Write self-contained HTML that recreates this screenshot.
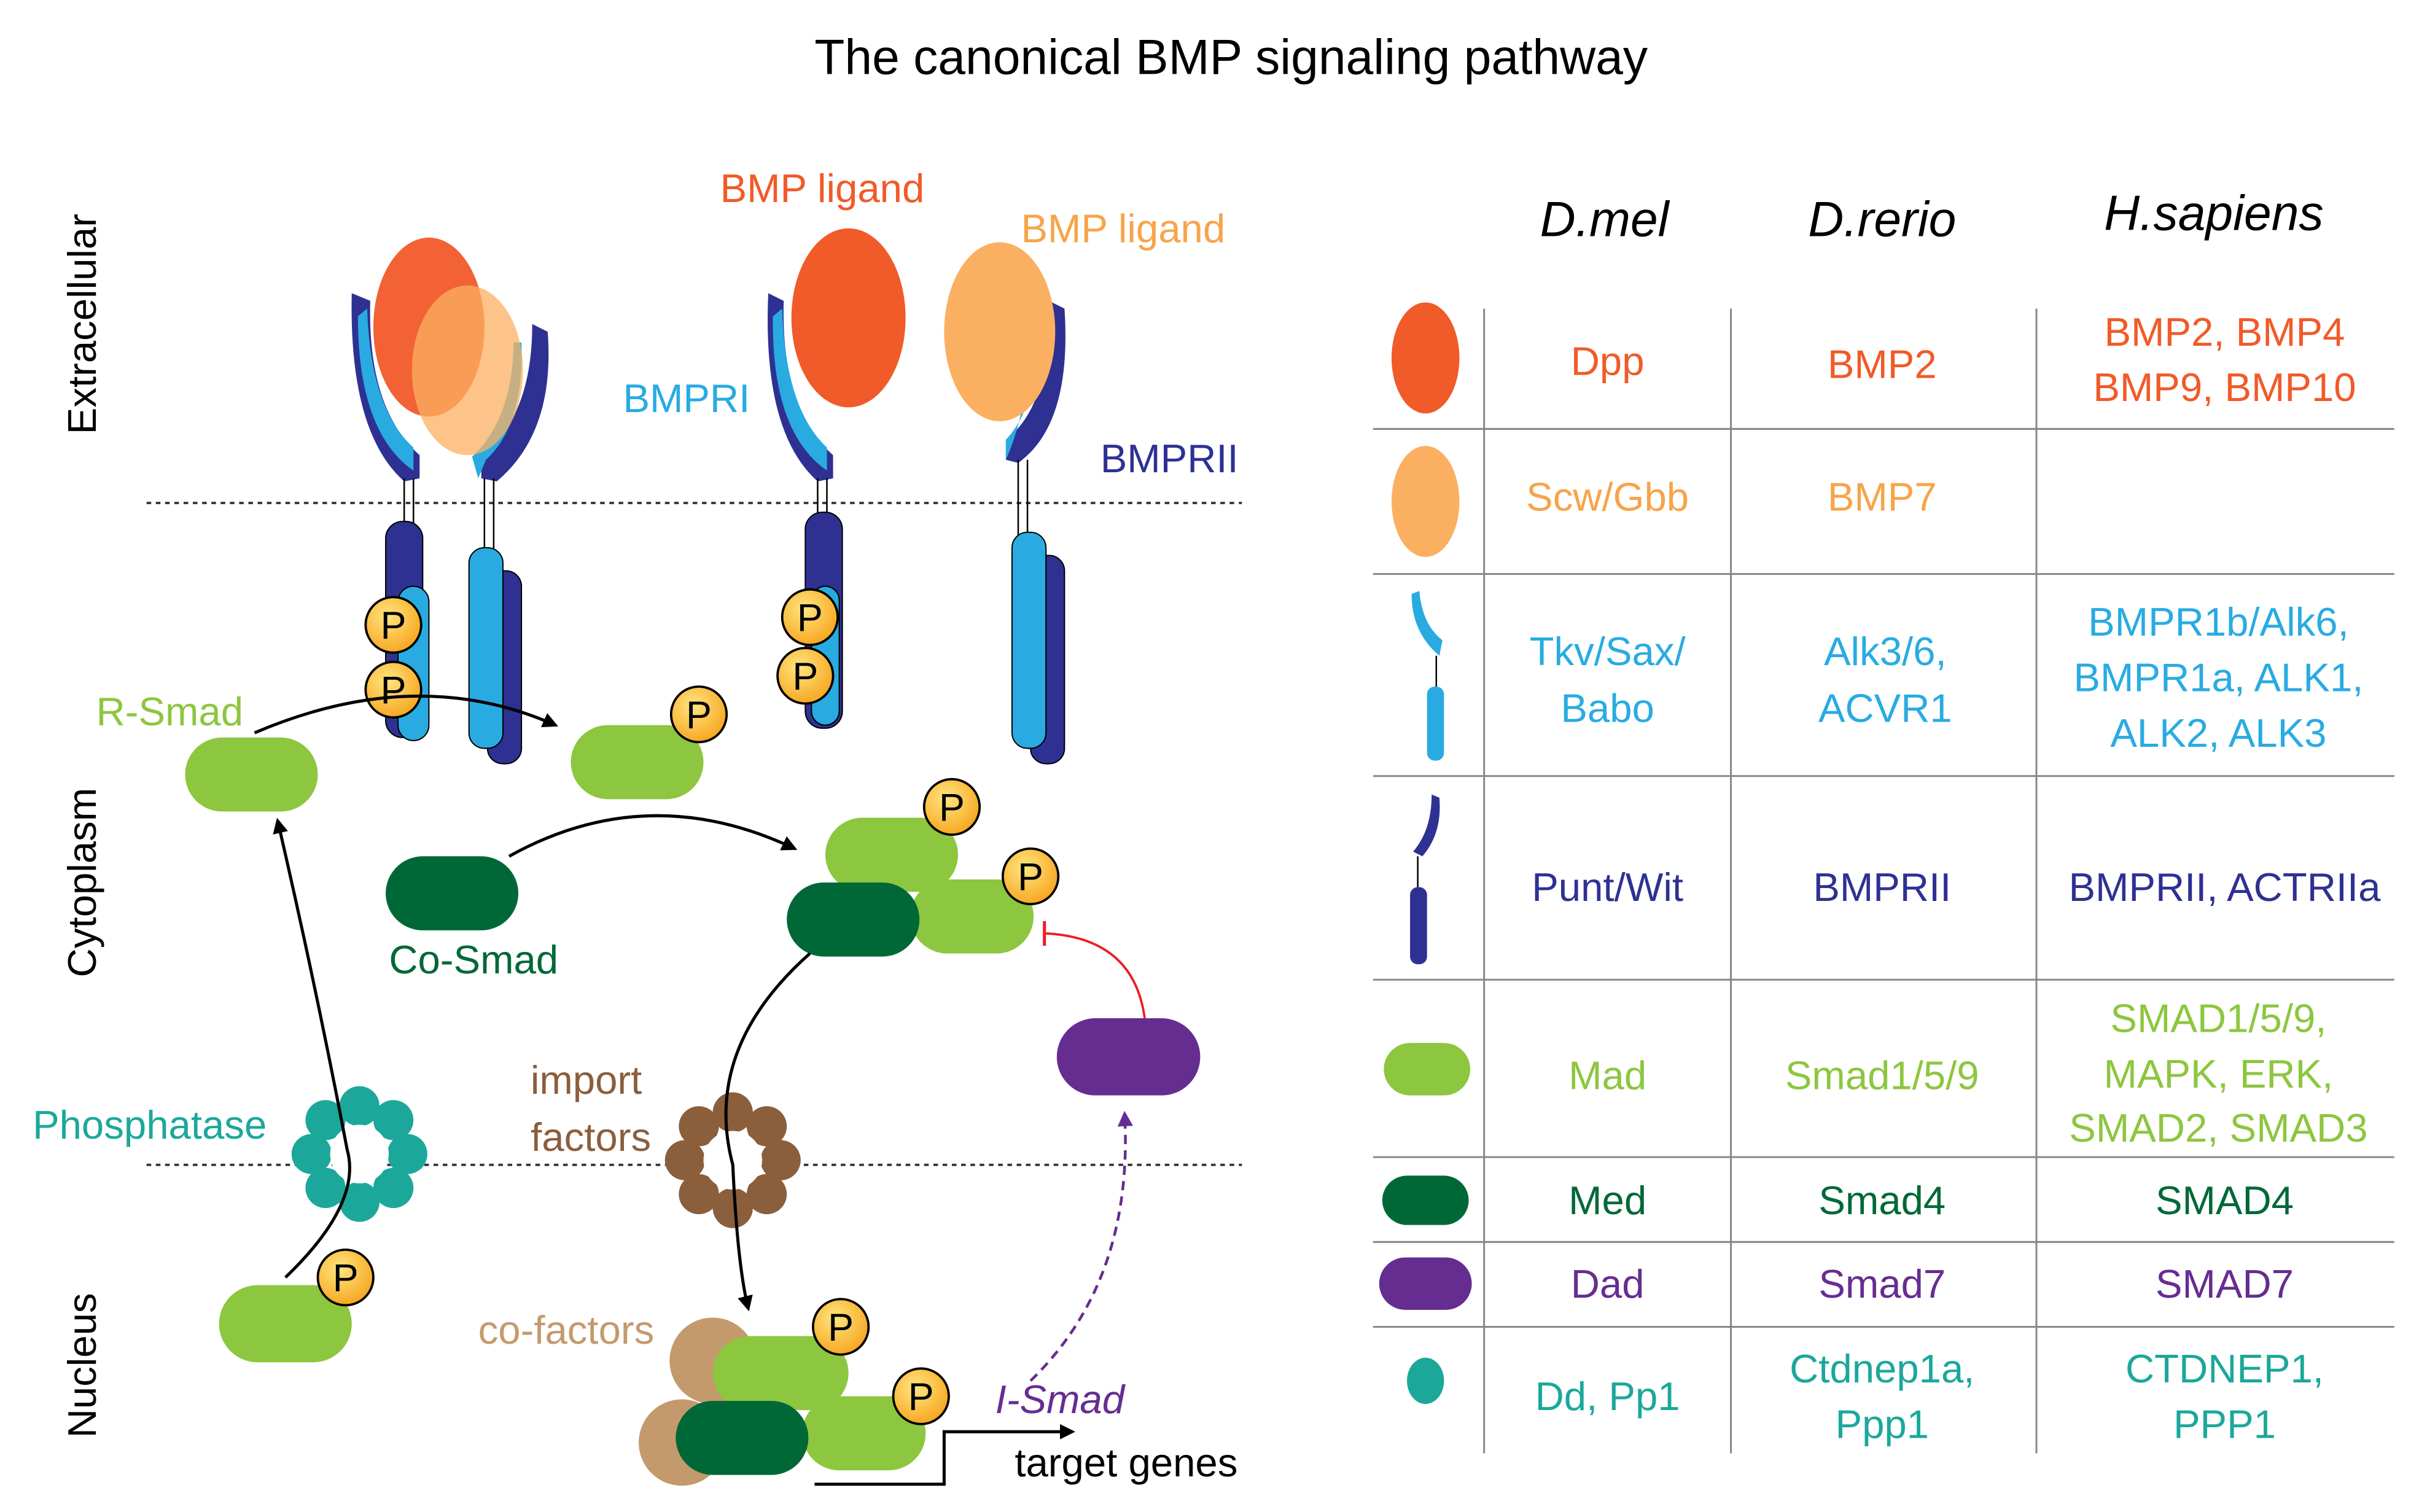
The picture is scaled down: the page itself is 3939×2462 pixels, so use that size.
<!DOCTYPE html>
<html><head><meta charset="utf-8"><style>
html,body{margin:0;padding:0;background:#fff}
svg{display:block}
text{font-family:"Liberation Sans",Arial,sans-serif}
</style></head><body>
<svg width="3939" height="2462" viewBox="0 0 1568 980" xmlns="http://www.w3.org/2000/svg">
<defs>
<radialGradient id="pg" cx="40%" cy="35%" r="65%"><stop offset="0" stop-color="#ffe680"/><stop offset="1" stop-color="#f7a823"/></radialGradient>
<marker id="ah" markerWidth="10" markerHeight="10" refX="8" refY="5" orient="auto" markerUnits="userSpaceOnUse"><path d="M0,0 L10,5 L0,10 z" fill="#000"/></marker>
<marker id="ahp" markerWidth="10" markerHeight="10" refX="8" refY="5" orient="auto" markerUnits="userSpaceOnUse"><path d="M0,0 L10,5 L0,10 z" fill="#662d91"/></marker>
<g id="P"><circle r="18" fill="url(#pg)" stroke="#000" stroke-width="1.5"/><text y="9" text-anchor="middle" font-size="25">P</text></g>
<g id="ring1"><g fill="#1ba89b">
<circle cx="0" cy="-31" r="13"/><circle cx="22" cy="-22" r="13"/><circle cx="31" cy="0" r="13"/><circle cx="22" cy="22" r="13"/><circle cx="0" cy="31" r="13"/><circle cx="-22" cy="22" r="13"/><circle cx="-31" cy="0" r="13"/><circle cx="-22" cy="-22" r="13"/></g><circle r="19" fill="#fff"/></g>
<g id="ring2"><g fill="#8b5e3c">
<circle cx="0" cy="-31" r="13"/><circle cx="22" cy="-22" r="13"/><circle cx="31" cy="0" r="13"/><circle cx="22" cy="22" r="13"/><circle cx="0" cy="31" r="13"/><circle cx="-22" cy="22" r="13"/><circle cx="-31" cy="0" r="13"/><circle cx="-22" cy="-22" r="13"/></g><circle r="19" fill="#fff"/></g>
</defs>

<text x="798" y="48" text-anchor="middle" font-size="32">The canonical BMP signaling pathway</text>

<text transform="translate(62,210) rotate(-90)" text-anchor="middle" font-size="26">Extracellular</text>
<text transform="translate(62,572) rotate(-90)" text-anchor="middle" font-size="26">Cytoplasm</text>
<text transform="translate(62,885) rotate(-90)" text-anchor="middle" font-size="26">Nucleus</text>

<line x1="95" y1="326" x2="805" y2="326" stroke="#333" stroke-width="1.5" stroke-dasharray="3,3"/>
<line x1="95" y1="755" x2="805" y2="755" stroke="#333" stroke-width="1.5" stroke-dasharray="3,3"/>

<!-- receptor complex 1 -->
<path d="M228,190 L240,195 Q238,265 272,295 L272,310 L262,312 Q226,280 228,190z" fill="#2e3192"/>
<path d="M238,200 Q240,265 268,290 L268,305 Q232,280 232,205z" fill="#29abe2"/>
<path d="M345,210 L355,215 Q360,280 322,312 L312,310 L312,295 Q345,270 345,210z" fill="#2e3192"/>
<path d="M338,222 Q340,275 315,298 L310,310 L306,296 Q332,272 333,222z" fill="#29abe2"/>
<line x1="262" y1="310" x2="262" y2="345" stroke="#000" stroke-width="1"/><line x1="268" y1="310" x2="268" y2="345" stroke="#000" stroke-width="1"/>
<line x1="314" y1="310" x2="314" y2="360" stroke="#000" stroke-width="1"/><line x1="320" y1="310" x2="320" y2="360" stroke="#000" stroke-width="1"/>
<rect x="250" y="338" width="24" height="140" rx="11" fill="#2e3192" stroke="#000" stroke-width="0.8"/>
<rect x="258" y="380" width="20" height="100" rx="10" fill="#29abe2" stroke="#000" stroke-width="0.8"/>
<rect x="316" y="370" width="22" height="125" rx="10" fill="#2e3192" stroke="#000" stroke-width="0.8"/>
<rect x="304" y="355" width="22" height="130" rx="10" fill="#29abe2" stroke="#000" stroke-width="0.8"/>
<ellipse cx="278" cy="212" rx="36" ry="58" fill="#f15a29" opacity="0.95"/>
<ellipse cx="303" cy="240" rx="36" ry="55" fill="#fbb061" opacity="0.75"/>
<use href="#P" x="255" y="405"/><use href="#P" x="255" y="447"/>

<!-- receptor complex 2 -->
<path d="M498,190 L508,195 Q506,265 540,295 L540,310 L530,312 Q494,280 498,190z" fill="#2e3192"/>
<path d="M507,200 Q509,265 536,290 L536,305 Q500,280 501,205z" fill="#29abe2"/>
<path d="M680,195 L690,200 Q695,275 660,300 L652,298 L652,285 Q682,262 680,195z" fill="#2e3192"/>
<path d="M672,208 Q674,262 652,285 L652,298 Q668,262 667,210z" fill="#29abe2"/>
<line x1="530" y1="310" x2="530" y2="340" stroke="#000" stroke-width="1"/><line x1="536" y1="310" x2="536" y2="340" stroke="#000" stroke-width="1"/>
<line x1="660" y1="298" x2="660" y2="350" stroke="#000" stroke-width="1"/><line x1="666" y1="298" x2="666" y2="350" stroke="#000" stroke-width="1"/>
<rect x="522" y="332" width="24" height="140" rx="11" fill="#2e3192" stroke="#000" stroke-width="0.8"/>
<rect x="526" y="380" width="18" height="90" rx="9" fill="#29abe2" stroke="#000" stroke-width="0.8"/>
<rect x="668" y="360" width="22" height="135" rx="10" fill="#2e3192" stroke="#000" stroke-width="0.8"/>
<rect x="656" y="345" width="22" height="140" rx="10" fill="#29abe2" stroke="#000" stroke-width="0.8"/>
<ellipse cx="550" cy="206" rx="37" ry="58" fill="#f15a29"/>
<ellipse cx="648" cy="215" rx="36" ry="58" fill="#fbb061"/>
<use href="#P" x="525" y="400"/><use href="#P" x="522" y="438"/>

<text x="533" y="131" text-anchor="middle" font-size="26" fill="#f15a29">BMP ligand</text>
<text x="728" y="157" text-anchor="middle" font-size="26" fill="#f7a44a">BMP ligand</text>
<text x="445" y="267" text-anchor="middle" font-size="26" fill="#29abe2">BMPRI</text>
<text x="758" y="306" text-anchor="middle" font-size="26" fill="#2e3192">BMPRII</text>

<!-- cytoplasm -->
<text x="110" y="470" text-anchor="middle" font-size="26" fill="#8dc63f">R-Smad</text>
<rect x="120" y="478" width="86" height="48" rx="24" fill="#8dc63f"/>
<path d="M165,475 Q270,430 360,470" fill="none" stroke="#000" stroke-width="2" marker-end="url(#ah)"/>
<rect x="370" y="470" width="86" height="48" rx="24" fill="#8dc63f"/>
<use href="#P" x="453" y="463"/>
<rect x="250" y="555" width="86" height="48" rx="24" fill="#006837"/>
<text x="307" y="631" text-anchor="middle" font-size="26" fill="#006837">Co-Smad</text>
<path d="M330,555 Q420,505 515,550" fill="none" stroke="#000" stroke-width="2" marker-end="url(#ah)"/>
<rect x="535" y="530" width="86" height="48" rx="24" fill="#8dc63f"/>
<rect x="590" y="570" width="80" height="48" rx="24" fill="#8dc63f"/>
<rect x="510" y="572" width="86" height="48" rx="24" fill="#006837"/>
<use href="#P" x="617" y="523"/><use href="#P" x="668" y="568"/>
<rect x="685" y="660" width="93" height="50" rx="25" fill="#662d91"/>
<path d="M742,660 Q735,608 678,605" fill="none" stroke="#ed1c24" stroke-width="1.5"/>
<line x1="677" y1="597" x2="677" y2="613" stroke="#ed1c24" stroke-width="2"/>

<!-- membrane rings -->
<use href="#ring1" x="233" y="748"/>
<use href="#ring2" x="475" y="752"/>
<text x="97" y="738" text-anchor="middle" font-size="26" fill="#1ba89b">Phosphatase</text>
<text x="380" y="709" text-anchor="middle" font-size="26" fill="#8b5e3c">import</text>
<text x="383" y="746" text-anchor="middle" font-size="26" fill="#8b5e3c">factors</text>

<path d="M185,828 Q235,780 225,745 Q205,640 180,532" fill="none" stroke="#000" stroke-width="2" marker-end="url(#ah)"/>
<path d="M525,618 Q455,680 475,755 Q478,820 485,848" fill="none" stroke="#000" stroke-width="2" marker-end="url(#ah)"/>

<!-- nucleus -->
<rect x="142" y="833" width="86" height="50" rx="25" fill="#8dc63f"/>
<use href="#P" x="224" y="828"/>
<text x="367" y="871" text-anchor="middle" font-size="26" fill="#c49a6c">co-factors</text>
<circle cx="462" cy="882" r="28" fill="#c49a6c"/>
<circle cx="442" cy="935" r="28" fill="#c49a6c"/>
<rect x="462" y="866" width="88" height="48" rx="24" fill="#8dc63f"/>
<rect x="520" y="905" width="80" height="48" rx="24" fill="#8dc63f"/>
<rect x="438" y="908" width="86" height="48" rx="24" fill="#006837"/>
<use href="#P" x="545" y="860"/><use href="#P" x="597" y="905"/>
<path d="M528,962 L612,962 L612,928 L695,928" fill="none" stroke="#000" stroke-width="2" marker-end="url(#ah)"/>
<text x="730" y="957" text-anchor="middle" font-size="26">target genes</text>
<text x="687" y="916" text-anchor="middle" font-size="26" font-style="italic" fill="#662d91">I-Smad</text>
<path d="M668,895 Q735,830 729,722" fill="none" stroke="#662d91" stroke-width="1.8" stroke-dasharray="6,4" marker-end="url(#ahp)"/>

<!-- table -->
<g font-size="32" font-style="italic" text-anchor="middle">
<text x="1040" y="153">D.mel</text><text x="1220" y="153">D.rerio</text><text x="1435" y="149">H.sapiens</text>
</g>
<g stroke="#888" stroke-width="1.2">
<line x1="962" y1="200" x2="962" y2="942"/><line x1="1122" y1="200" x2="1122" y2="942"/><line x1="1320" y1="200" x2="1320" y2="942"/>
<line x1="890" y1="278" x2="1552" y2="278"/><line x1="890" y1="372" x2="1552" y2="372"/><line x1="890" y1="503" x2="1552" y2="503"/>
<line x1="890" y1="635" x2="1552" y2="635"/><line x1="890" y1="750" x2="1552" y2="750"/><line x1="890" y1="805" x2="1552" y2="805"/><line x1="890" y1="860" x2="1552" y2="860"/>
</g>
<!-- icons -->
<ellipse cx="924" cy="232" rx="22" ry="36" fill="#f15a29"/>
<ellipse cx="924" cy="325" rx="22" ry="36" fill="#fbb061"/>
<path d="M915,385 L920,383 Q922,405 935,415 L933,425 Q915,410 915,385z" fill="#29abe2"/>
<line x1="931" y1="425" x2="931" y2="445" stroke="#000"/>
<rect x="925" y="445" width="11" height="48" rx="5" fill="#29abe2"/>
<path d="M928,515 L933,517 Q935,540 922,555 L916,552 Q928,538 928,515z" fill="#2e3192"/>
<line x1="919" y1="555" x2="919" y2="575" stroke="#000"/>
<rect x="914" y="575" width="11" height="50" rx="5" fill="#2e3192"/>
<rect x="897" y="676" width="56" height="34" rx="17" fill="#8dc63f"/>
<rect x="896" y="762" width="56" height="32" rx="16" fill="#006837"/>
<rect x="894" y="815" width="60" height="34" rx="17" fill="#662d91"/>
<ellipse cx="924" cy="895" rx="12" ry="15" fill="#1ba89b"/>

<g font-size="26" text-anchor="middle">
<g fill="#f15a29"><text x="1042" y="243">Dpp</text><text x="1220" y="245">BMP2</text><text x="1442" y="224">BMP2, BMP4</text><text x="1442" y="260">BMP9, BMP10</text></g>
<g fill="#f7a44a"><text x="1042" y="331">Scw/Gbb</text><text x="1220" y="331">BMP7</text></g>
<g fill="#29abe2"><text x="1042" y="431">Tkv/Sax/</text><text x="1042" y="468">Babo</text><text x="1222" y="431">Alk3/6,</text><text x="1222" y="468">ACVR1</text>
<text x="1438" y="412">BMPR1b/Alk6,</text><text x="1438" y="448">BMPR1a, ALK1,</text><text x="1438" y="484">ALK2, ALK3</text></g>
<g fill="#2e3192"><text x="1042" y="584">Punt/Wit</text><text x="1220" y="584">BMPRII</text><text x="1442" y="584">BMPRII, ACTRIIa</text></g>
<g fill="#8dc63f"><text x="1042" y="706">Mad</text><text x="1220" y="706">Smad1/5/9</text><text x="1438" y="669">SMAD1/5/9,</text><text x="1438" y="705">MAPK, ERK,</text><text x="1438" y="740">SMAD2, SMAD3</text></g>
<g fill="#006837"><text x="1042" y="787">Med</text><text x="1220" y="787">Smad4</text><text x="1442" y="787">SMAD4</text></g>
<g fill="#662d91"><text x="1042" y="841">Dad</text><text x="1220" y="841">Smad7</text><text x="1442" y="841">SMAD7</text></g>
<g fill="#1ba89b"><text x="1042" y="914">Dd, Pp1</text><text x="1220" y="896">Ctdnep1a,</text><text x="1220" y="932">Ppp1</text><text x="1442" y="896">CTDNEP1,</text><text x="1442" y="932">PPP1</text></g>
</g>
</svg>
</body></html>
